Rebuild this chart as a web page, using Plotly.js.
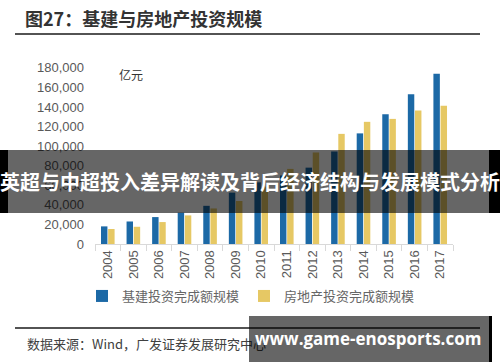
<!DOCTYPE html>
<html>
<head>
<meta charset="utf-8">
<script src="https://cdn.plot.ly/plotly-3.0.1.min.js"></script>
<style>
html,body{margin:0;padding:0;background:#fff;}
#chart{width:500px;height:362px;}
</style>
</head>
<body>
<div id="chart"></div>
<script>
// ---- data ----
const years = ["2004","2005","2006","2007","2008","2009","2010","2011","2012","2013","2014","2015","2016","2017"];
const infraName = "基建投资完成额规模";
const infraValues = [18000, 23000, 27500, 32000, 39000, 52500, 63000, 70000, 78000, 94500, 113000, 132500, 153000, 174000];
const estateName = "房地产投资完成额规模";
const estateValues = [15300, 17600, 22400, 29200, 36300, 43900, 58500, 76700, 93500, 112500, 124800, 127800, 136300, 141100];
const yTicks = [0, 20000, 40000, 60000, 80000, 100000, 120000, 140000, 160000, 180000];
const titleText = "图27：基建与房地产投资规模";
const unitText = "亿元";
const sourceText = "数据来源：Wind，广发证券发展研究中心";
const bannerText = "英超与中超投入差异解读及背后经济结构与发展模式分析";
const watermarkText = "www.game-enosports.com";

// ---- layout helpers (pixel -> paper) ----
const W = 500, H = 362, ML = 95, MR = 47, MT = 58, MB = 118;
const PW = W - ML - MR, PH = H - MT - MB;
const px = x => (x - ML) / PW;
const py = y => (H - MB - y) / PH;

const CJK = '"Noto Sans CJK SC", "Noto Sans", sans-serif';
const LAT = '"Liberation Sans", Arial, sans-serif';

const traces = [
  {type: "bar", name: infraName, x: years, y: infraValues,
   marker: {color: "#1c69a6"}, hoverinfo: "x+y"},
  {type: "bar", name: estateName, x: years, y: estateValues,
   marker: {color: "#e6c864"}, hoverinfo: "x+y"}
];

const layout = {
  width: W, height: H,
  margin: {l: ML, r: MR, t: MT, b: MB, pad: 0},
  paper_bgcolor: "#ffffff", plot_bgcolor: "#ffffff",
  barmode: "group", bargap: 0.44, bargroupgap: 0.1,
  title: {text: "<b>" + titleText + "</b>", x: 25 / W, xanchor: "left", xref: "container",
          y: 1 - 20 / H, yanchor: "middle", yref: "container",
          font: {family: CJK, size: 18, color: "#333333"}},
  xaxis: {type: "category", showgrid: false, zeroline: false,
          showline: true, linecolor: "#d9d9d9", linewidth: 1,
          ticks: "outside", tickson: "boundaries", ticklen: 6, tickcolor: "#d9d9d9",
          tickangle: -90, tickfont: {family: LAT, size: 13, color: "#595959"}},
  yaxis: {range: [0, 190000], tickvals: yTicks, tickformat: ",d", showgrid: false,
          zeroline: false, showline: false, ticks: "", ticklabelstandoff: 10,
          tickfont: {family: LAT, size: 13, color: "#595959"}},
  showlegend: true,
  legend: {orientation: "h", x: px(82), xanchor: "left", y: py(296), yanchor: "middle",
           font: {family: CJK, size: 13, color: "#666666"}, itemwidth: 30,
           bgcolor: "rgba(0,0,0,0)", traceorder: "normal"},
  shapes: [
    {type: "line", xref: "paper", yref: "paper", x0: px(15), x1: px(480), y0: py(34), y1: py(34),
     line: {color: "#1a1a1a", width: 1.5}},
    {type: "line", xref: "paper", yref: "paper", x0: px(15), x1: px(480), y0: py(328), y1: py(328),
     line: {color: "#1a1a1a", width: 1.5}},
    {type: "rect", xref: "paper", yref: "paper", x0: px(0), x1: px(8), y0: py(150), y1: py(213),
     fillcolor: "#000", line: {width: 0}, layer: "above"},
    {type: "rect", xref: "paper", yref: "paper", x0: px(489), x1: px(500), y0: py(150), y1: py(213),
     fillcolor: "#000", line: {width: 0}, layer: "above"},
    {type: "rect", xref: "paper", yref: "paper", x0: px(489), x1: px(492), y0: py(316), y1: py(362),
     fillcolor: "#000", line: {width: 0}, layer: "above"}
  ],
  annotations: [
    {text: unitText, xref: "paper", yref: "paper", x: px(117), y: py(74), xanchor: "left", yanchor: "middle",
     showarrow: false, font: {family: CJK, size: 12, color: "#333333"}},
    {text: sourceText, xref: "paper", yref: "paper", x: px(25), y: py(343), xanchor: "left", yanchor: "middle",
     showarrow: false, font: {family: CJK, size: 13, color: "#404040"}},
    // banner overlay box
    {text: " ", xref: "paper", yref: "paper", x: px(248.5), y: py(181.5),
     xanchor: "center", yanchor: "middle", showarrow: false, width: 481, height: 63,
     bgcolor: "rgba(0,0,0,0.6)", borderpad: 0, borderwidth: 0,
     font: {family: CJK, size: 20, color: "#ffffff"}},
    // banner text
    {text: "<b>" + bannerText + "</b>", xref: "paper", yref: "paper", x: px(250), y: py(181),
     xanchor: "center", yanchor: "middle", showarrow: false,
     font: {family: CJK, size: 20, color: "#ffffff"}},
    // watermark overlay box
    {text: " ", xref: "paper", yref: "paper", x: px(369), y: py(339),
     xanchor: "center", yanchor: "middle", showarrow: false, width: 240, height: 46,
     bgcolor: "rgba(0,0,0,0.6)", borderpad: 0, borderwidth: 0,
     font: {family: CJK, size: 12, color: "#ffffff"}},
    // watermark text
    {text: "<b>" + watermarkText + "</b>", xref: "paper", yref: "paper", x: px(368), y: py(338),
     xanchor: "center", yanchor: "middle", showarrow: false,
     font: {family: '"Open Sans", sans-serif', size: 17, color: "#ffffff"}}
  ]
};

Plotly.newPlot("chart", traces, layout, {displayModeBar: false, staticPlot: true});
</script>
</body>
</html>
